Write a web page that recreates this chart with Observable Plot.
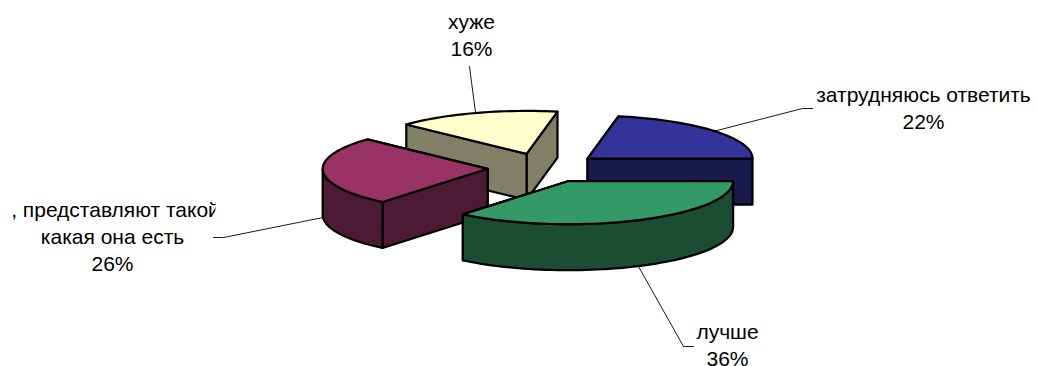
<!DOCTYPE html>
<html lang="ru">
<head>
<meta charset="utf-8">
<script src="https://cdn.jsdelivr.net/npm/d3@7"></script>
<script src="https://cdn.jsdelivr.net/npm/@observablehq/plot@0.6"></script>
<style>
html,body{margin:0;padding:0;background:#fff;}
svg{display:block;}
</style>
</head>
<body>
<div id="chart"></div>
<script>
// Data
const categories = ["затрудняюсь ответить", "лучше", "представляют такой, какая она есть", "хуже"];
const shares = [22, 36, 26, 16];
const labelLines = [
  ["затрудняюсь ответить", "22%"],
  ["лучше", "36%"],
  [", представляют такой", "какая она есть", "26%"],
  ["хуже", "16%"]
];
const topColors = ["#333399", "#339966", "#993366", "#FFFFCC"];
const wallColors = ["#1A1A4D", "#1A4D33", "#4D1A33", "#808066"];
const drawOrder = [0, 3, 2, 1];

// Layout (pixels)
const W = 1038, H = 366;
const cx = 543.5, cy = 167.4, rx = 165, ry = 43;
const depth = 46 / ry, explode = 0.342;
const fontSize = 21;
const lineStep = 27;
const labelCenters = [[923, 95], [727, 332], [112, 210], [471, 21.5]];
const firstLineShift = [0, 0, 3, 0];
const leaderEnds = [[812, 108], [693, 346], [213, 237], [469, 66]];
const leaderElbows = [[802, 108], [683, 346], [223, 237], null];
const clipRight = 215;

const toU = px => (px - cx) / rx;
const toV = py => (py - cy) / ry;
const rad = d => d * Math.PI / 180;

// Slices run clockwise from the 3 o'clock position, first slice ending there.
let start = -shares[0] * 3.6;
const slices = shares.map((s, i) => {
  const a0 = start, a1 = start + s * 3.6;
  start = a1;
  const mid = rad((a0 + a1) / 2);
  return {i, a0, a1, ax: explode * Math.cos(mid), ay: explode * Math.sin(mid), mid};
});
const onArc = (sl, deg, dz = 0) => ({
  x: sl.ax + Math.cos(rad(deg)),
  y: sl.ay + Math.sin(rad(deg)) + dz
});
const arcPts = (sl, a0, a1, dz = 0) => {
  const n = Math.max(2, Math.ceil(Math.abs(a1 - a0) / 2));
  return d3.range(n + 1).map(k => onArc(sl, a0 + (a1 - a0) * k / n, dz));
};
const apex = (sl, dz = 0) => ({x: sl.ax, y: sl.ay + dz});

const face = (pts, fill) => Plot.line(pts, {
  x: "x", y: "y", fill, stroke: "#000", strokeWidth: 2.2,
  strokeLinejoin: "round", strokeLinecap: "round", curve: "linear"
});

const marks = [];
for (const i of drawOrder) {
  const sl = slices[i];
  const wall = wallColors[i];
  // radial walls, the one further back first
  const radials = [sl.a0, sl.a1].sort((a, b) => Math.sin(rad(a)) - Math.sin(rad(b)));
  for (const a of radials) {
    const p = onArc(sl, a), q = onArc(sl, a, depth);
    marks.push(face([apex(sl), p, q, apex(sl, depth), apex(sl)], wall));
  }
  // outer wall: only the part facing the viewer
  const lo = Math.max(sl.a0, 0), hi = Math.min(sl.a1, 180);
  if (hi > lo) {
    const top = arcPts(sl, lo, hi);
    const bot = arcPts(sl, hi, lo, depth);
    marks.push(face([...top, ...bot, top[0]], wall));
  }
  // top face
  marks.push(face([apex(sl), ...arcPts(sl, sl.a0, sl.a1), apex(sl)], topColors[i]));
}

// Leader lines from the arc middle to the label
slices.forEach(sl => {
  const deg = sl.mid * 180 / Math.PI;
  const frontFacing = Math.sin(sl.mid) > 0;
  const p0 = onArc(sl, deg, frontFacing ? depth : 0);
  const pts = [p0];
  const e = leaderElbows[sl.i];
  if (e) pts.push({x: toU(e[0]), y: toV(e[1])});
  const end = leaderEnds[sl.i];
  pts.push({x: toU(end[0]), y: toV(end[1])});
  marks.unshift(Plot.line(pts, {x: "x", y: "y", stroke: "#000", strokeWidth: 0.9, curve: "linear"}));
});

// Labels
const labelRows = labelLines.flatMap((lines, i) => lines.map((text, k) => ({
  text,
  x: toU(labelCenters[i][0] + (k === 0 ? firstLineShift[i] : 0)),
  y: toV(labelCenters[i][1] + k * lineStep)
})));
marks.push(Plot.text(labelRows, {
  x: "x", y: "y", text: "text", fontSize, fill: "#000",
  fontFamily: "'Liberation Sans', Arial, sans-serif",
  textAnchor: "middle", lineAnchor: "middle"
}));

const plot = Plot.plot({
  width: W, height: H, margin: 0,
  style: {background: "#fff", fontFamily: "'Liberation Sans', Arial, sans-serif"},
  x: {axis: null, domain: [toU(0), toU(W)]},
  y: {axis: null, domain: [toV(H), toV(0)]},
  marks
});

// The first line of one label is cut off on its right by the label box
const ns = "http://www.w3.org/2000/svg";
const clip = document.createElementNS(ns, "clipPath");
clip.setAttribute("id", "label-clip");
clip.setAttribute("clipPathUnits", "userSpaceOnUse");
const box = document.createElementNS(ns, "rect");
box.setAttribute("x", 0); box.setAttribute("y", 0);
box.setAttribute("width", clipRight); box.setAttribute("height", H);
clip.appendChild(box);
plot.appendChild(clip);
plot.querySelectorAll("text").forEach(t => {
  if (t.textContent.startsWith(", представляют")) {
    const wrap = document.createElementNS(ns, "g");
    wrap.setAttribute("clip-path", "url(#label-clip)");
    t.parentNode.insertBefore(wrap, t);
    wrap.appendChild(t);
  }
});
document.getElementById("chart").appendChild(plot);
</script>
</body>
</html>
